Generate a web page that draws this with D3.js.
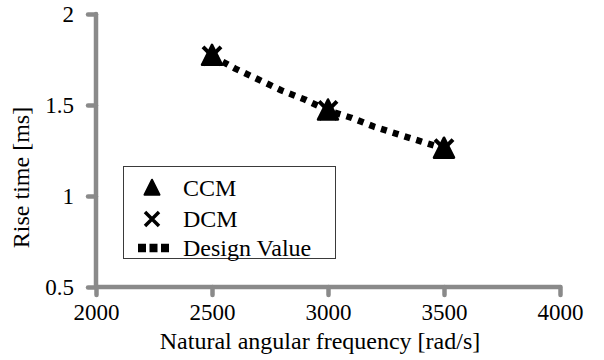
<!DOCTYPE html>
<html>
<head>
<meta charset="utf-8">
<script src="https://cdn.jsdelivr.net/npm/d3@7"></script>
<style>
  html, body { margin: 0; padding: 0; background: #fff; }
  svg { display: block; }
</style>
</head>
<body>
<svg id="chart" width="604" height="360" font-family="Liberation Serif"></svg>
<script>
// Rise time versus natural angular frequency
const freqs      = [2500, 3000, 3500];
const ccmValues  = [1.77, 1.47, 1.26];
const dcmValues  = [1.77, 1.47, 1.26];
const designFreq = [2500, 2600, 2700, 2800, 2900, 3000, 3100, 3200, 3300, 3400, 3500];
const designRise = [1.77, 1.70, 1.64, 1.58, 1.53, 1.47, 1.43, 1.38, 1.34, 1.30, 1.26];
const xTicks = [2000, 2500, 3000, 3500, 4000];
const yTicks = [0.5, 1, 1.5, 2];
const xTitle = "Natural angular frequency [rad/s]";
const yTitle = "Rise time [ms]";
const legendLabels = ["CCM", "DCM", "Design Value"];

const svg = d3.select("#chart");
const axisColor = "#8a8a8a";
const fontFamily = "Liberation Serif";

const x = d3.scaleLinear().domain([2000, 4000]).range([96, 560]);
const y = d3.scaleLinear().domain([0.5, 2]).range([287, 14]);

// Applies the serif face to a text selection
const serif = size => sel => sel.attr("font-size", size).attr("font-family", fontFamily)
  .style("font-family", fontFamily).attr("fill", "#000");

// Axes
const xAxis = svg.append("g").attr("transform", `translate(0,${y(0.5)})`)
  .call(d3.axisBottom(x).tickValues(xTicks).tickSize(8).tickPadding(9).tickFormat(d3.format("d")));
const yAxis = svg.append("g").attr("transform", `translate(${x(2000)},0)`)
  .call(d3.axisLeft(y).tickValues(yTicks).tickSize(8).tickPadding(14).tickFormat(d => String(d)));

[xAxis, yAxis].forEach(g => {
  g.attr("font-family", fontFamily).attr("font-size", 23);
  g.select(".domain").attr("stroke", axisColor).attr("stroke-width", 4.5)
    .attr("stroke-linecap", "round");
  g.selectAll(".tick line").attr("stroke", axisColor).attr("stroke-width", 4.5)
    .attr("stroke-linecap", "round");
  g.selectAll(".tick text").call(serif(23));
});
// axis lines drawn without the outer end ticks
xAxis.select(".domain").attr("d", `M${x(2000)},0H${x(4000)}`);
yAxis.select(".domain").attr("d", `M0,${y(0.5)}V${y(2)}`);

// Axis titles
svg.append("text").attr("x", (x(2000) + x(4000)) / 2 - 8).attr("y", 349)
  .attr("text-anchor", "middle").call(serif(24)).text(xTitle);
svg.append("text").attr("transform", `translate(29,${(y(0.5) + y(2)) / 2 + 27}) rotate(-90)`)
  .attr("text-anchor", "middle").call(serif(24)).text(yTitle);

// Design value dotted line
const designData = designFreq.map((f, i) => ({ f, v: designRise[i] }));
svg.append("path").datum(designData)
  .attr("d", d3.line().x(d => x(d.f)).y(d => y(d.v)))
  .attr("fill", "none").attr("stroke", "#000").attr("stroke-width", 6.5)
  .attr("stroke-dasharray", "6,6.3").attr("stroke-linejoin", "round");

// Marker shapes
const triPath = s => `M0,${-s * 0.55}L${s * 0.5},${s * 0.45}L${-s * 0.5},${s * 0.45}Z`;
const xPath = s => `M${-s / 2},${-s / 2}L${s / 2},${s / 2}M${s / 2},${-s / 2}L${-s / 2},${s / 2}`;

// CCM triangles
svg.append("g").selectAll("path").data(freqs.map((f, i) => ({ f, v: ccmValues[i] })))
  .join("path")
  .attr("transform", d => `translate(${x(d.f)},${y(d.v)})`)
  .attr("d", triPath(20))
  .attr("fill", "#000").attr("stroke", "#000").attr("stroke-width", 2.5)
  .attr("stroke-linejoin", "round");

// DCM crosses
svg.append("g").selectAll("path").data(freqs.map((f, i) => ({ f, v: dcmValues[i] })))
  .join("path")
  .attr("transform", d => `translate(${x(d.f)},${y(d.v)})`)
  .attr("d", xPath(18))
  .attr("fill", "none").attr("stroke", "#000").attr("stroke-width", 4);

// Legend
const lg = svg.append("g");
lg.append("rect").attr("x", 123.5).attr("y", 166.5).attr("width", 212).attr("height", 92)
  .attr("fill", "#fff").attr("stroke", "#3a3a3a").attr("stroke-width", 1);
const rowY = [188, 219, 248];
const mx = 152;
lg.append("path").attr("transform", `translate(${mx},${rowY[0]})`).attr("d", triPath(15))
  .attr("fill", "#000").attr("stroke", "#000").attr("stroke-width", 2).attr("stroke-linejoin", "round");
lg.append("path").attr("transform", `translate(${mx},${rowY[1]})`).attr("d", xPath(14))
  .attr("fill", "none").attr("stroke", "#000").attr("stroke-width", 3.5);
lg.append("line").attr("x1", mx - 14).attr("x2", mx + 20).attr("y1", rowY[2]).attr("y2", rowY[2])
  .attr("stroke", "#000").attr("stroke-width", 8.5).attr("stroke-dasharray", "8,3.5");
lg.selectAll("text.lab").data(legendLabels).join("text").attr("class", "lab")
  .attr("x", 183).attr("y", (d, i) => rowY[i] + 8).call(serif(24)).text(d => d);
</script>
</body>
</html>
